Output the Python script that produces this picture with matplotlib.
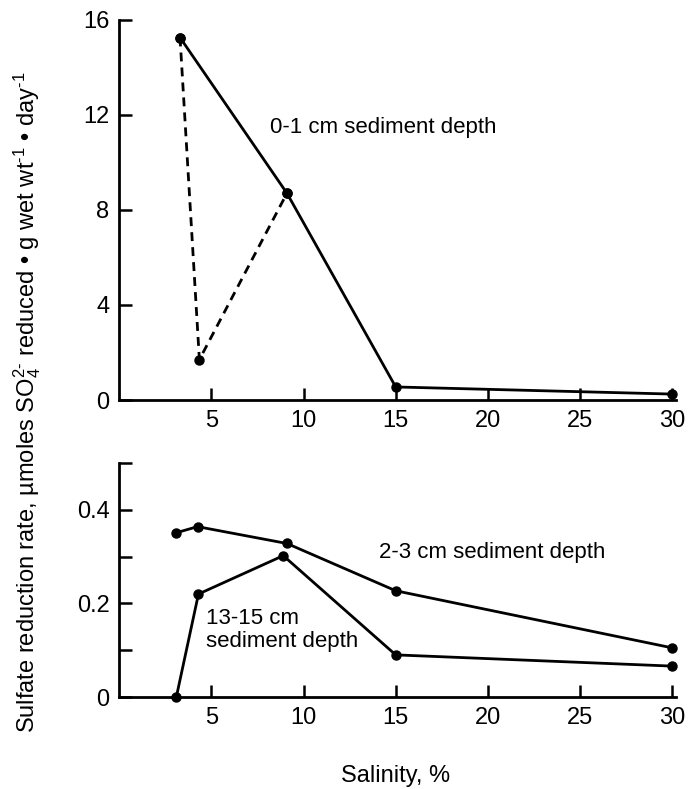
import matplotlib
matplotlib.use("Agg")
import matplotlib.pyplot as plt

plt.rcParams['font.family'] = ['Liberation Sans', 'DejaVu Sans']
plt.rcParams['mathtext.fontset'] = 'custom'
plt.rcParams['mathtext.rm'] = 'Liberation Sans'
plt.rcParams['mathtext.it'] = 'Liberation Sans'
plt.rcParams['mathtext.bf'] = 'Liberation Sans:bold'

# Upper panel: 0-1 cm sediment depth
SAL_TOP_SOLID = [3.3, 9.1, 15, 30]
RATE_TOP_SOLID = [15.25, 8.7, 0.55, 0.25]
SAL_TOP_DASH = [3.3, 4.35, 9.1]
RATE_TOP_DASH = [15.25, 1.7, 8.7]

# Lower panel: 2-3 cm and 13-15 cm sediment depth
SAL_LOW = [3.1, 4.25, 9.1, 15, 30]
RATE_2_3 = [0.351, 0.364, 0.328, 0.227, 0.105]
SAL_DEEP = [3.1, 4.3, 8.9, 15, 30]
RATE_13_15 = [0.0, 0.22, 0.302, 0.09, 0.066]

X_TICKS = [5, 10, 15, 20, 25, 30]
TOP_Y_TICKS = [0, 4, 8, 12, 16]
LOW_Y_TICKS = [0, 0.1, 0.2, 0.3, 0.4, 0.5]
LOW_Y_LABELS = ["0", "", "0.2", "", "0.4", ""]

FS = 16
FS_TICK = 17
FS_AXIS = 17
LW = 2.0
MS = 6.5

fig = plt.figure(figsize=(6.89, 7.89), dpi=100)
ax1 = fig.add_axes([0.173, 0.493, 0.808, 0.482])
ax2 = fig.add_axes([0.173, 0.1166, 0.808, 0.2966])


def style(ax):
    for s in ("top", "right"):
        ax.spines[s].set_visible(False)
    for s in ("left", "bottom"):
        ax.spines[s].set_linewidth(2.0)
    ax.tick_params(direction="in", length=9, width=1.8, labelsize=FS_TICK, pad=7)
    ax.set_xlim(0, 30.2)
    ax.set_xticks(X_TICKS)


ax1.plot(SAL_TOP_DASH, RATE_TOP_DASH, color="black", lw=LW, ls=(0, (3.2, 2.2)),
         marker="o", ms=MS, clip_on=False)
ax1.plot(SAL_TOP_SOLID, RATE_TOP_SOLID, color="black", lw=LW,
         marker="o", ms=MS, clip_on=False)
style(ax1)
ax1.set_ylim(0, 16)
ax1.set_yticks(TOP_Y_TICKS)
ax1.text(8.2, 11.45, "0-1 cm sediment depth", fontsize=FS, va="center")

ax2.plot(SAL_LOW, RATE_2_3, color="black", lw=LW, marker="o", ms=MS, clip_on=False)
ax2.plot(SAL_DEEP, RATE_13_15, color="black", lw=LW, marker="o", ms=MS, clip_on=False)
style(ax2)
ax2.set_ylim(0, 0.5)
ax2.set_yticks(LOW_Y_TICKS)
ax2.set_yticklabels(LOW_Y_LABELS)
ax2.text(14.1, 0.308, "2-3 cm sediment depth", fontsize=FS, va="center")
ax2.text(4.7, 0.143, "13-15 cm\nsediment depth", fontsize=FS, va="center",
         linespacing=1.1)

fig.text(0.574, 0.017, "Salinity, %", fontsize=FS_AXIS, ha="center", va="center")
fig.text(0.040, 0.49,
         "Sulfate reduction rate, µmoles SO$_4^{2\\text{-}}$ reduced • g wet "
         "wt$^{\\text{-}1}$ • day$^{\\text{-}1}$",
         fontsize=FS_AXIS, rotation=90, ha="center", va="center")

fig.savefig("out.png", dpi=100)
